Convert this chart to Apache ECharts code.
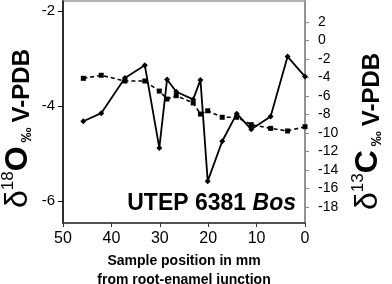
<!DOCTYPE html>
<html lang="en">
<head>
    <meta charset="utf-8">
    <title>UTEP 6381 Bos</title>
    <style>
        html, body { margin: 0; padding: 0; background: #fff; }
        #chart { width: 392px; height: 284px; }
    </style>
</head>
<body>
    <div id="chart"></div>
    <script src="https://cdn.jsdelivr.net/npm/echarts@6/dist/echarts.min.js"></script>
    <script type="text/javascript">
        // sample position, mm from root-enamel junction
        var positionMm = [45.8, 42.1, 37.2, 33.1, 30.1, 28.5, 26.6, 23.1, 21.6, 20.1, 17.1, 14.1, 11.1, 7.1, 3.6, 0];
        // d18O (left axis)
        var d18O = [-4.32, -4.15, -3.41, -3.14, -4.88, -3.44, -3.70, -3.86, -3.45, -5.58, -4.74, -4.16, -4.49, -4.22, -2.96, -3.38];
        // d13C (right axis)
        var d13C = [-4.09, -3.76, -4.38, -4.38, -5.47, -6.33, -5.97, -6.75, -7.95, -7.60, -8.30, -8.30, -9.10, -9.50, -9.78, -9.32];
        var leftTicks = [-6, -4, -2];
        var rightTicks = [-18, -16, -14, -12, -10, -8, -6, -4, -2, 0, 2];

        var font = "Liberation Sans, Arial, sans-serif";

        function pairs(ys) {
            return positionMm.map(function (x, i) { return [x, ys[i]]; });
        }

        function nameRich() {
            return {
                d: { fontFamily: font, fontSize: 32, color: "#000", verticalAlign: "bottom", lineHeight: 34 },
                s: { fontFamily: font, fontSize: 17, color: "#000", verticalAlign: "top", lineHeight: 34, padding: [0, 0, 14, 0] },
                o: { fontFamily: font, fontSize: 32, fontWeight: "bold", color: "#000", verticalAlign: "bottom", lineHeight: 34 },
                p: { fontFamily: font, fontSize: 15, fontWeight: "bold", color: "#000", verticalAlign: "bottom", lineHeight: 34, padding: [0, 5, 0, 4] },
                v: { fontFamily: font, fontSize: 24, fontWeight: "bold", color: "#000", verticalAlign: "bottom", lineHeight: 34 }
            };
        }

        var chart = echarts.init(document.getElementById("chart"), null, { renderer: "canvas" });
        var option = {
            backgroundColor: "#fff",
            animation: false,
            grid: { left: 63, right: 87, top: 1, bottom: 61, show: true, borderColor: "#9a9a9a", borderWidth: 1.5, outerBoundsMode: "none", containLabel: false },
            xAxis: {
                type: "value", min: 0, max: 50, interval: 10, inverse: true,
                axisLine: { onZero: false, lineStyle: { color: "#333", width: 1.5 } },
                axisTick: { show: true, length: 4, lineStyle: { color: "#333" } },
                axisLabel: { fontFamily: font, fontSize: 16, color: "#000", margin: 8 },
                splitLine: { show: false },
                name: "Sample position in mm\nfrom root-enamel junction",
                nameLocation: "middle",
                nameGap: 29,
                nameMoveOverlap: false,
                nameTextStyle: { fontFamily: font, fontSize: 14, fontWeight: "bold", color: "#000", lineHeight: 19 }
            },
            yAxis: [
                {
                    type: "value", min: -6.46, max: -1.79, position: "left",
                    axisLine: { show: true, onZero: false, lineStyle: { color: "#000", width: 1.5 } },
                    axisTick: { show: true, length: 5, customValues: leftTicks, lineStyle: { color: "#000" } },
                    axisLabel: { fontFamily: font, fontSize: 15, color: "#000", margin: 8, customValues: leftTicks },
                    splitLine: { show: false }
                },
                {
                    type: "value", min: -19.73, max: 4.27, position: "right",
                    axisLine: { show: true, onZero: false, lineStyle: { color: "#8a8a8a", width: 1.5 } },
                    axisTick: { show: true, length: 4, customValues: rightTicks, lineStyle: { color: "#8a8a8a" } },
                    axisLabel: { fontFamily: font, fontSize: 14, color: "#000", margin: 13, align: "left", customValues: rightTicks },
                    splitLine: { show: false }
                }
            ],
            series: [
                {
                    name: "d13C", type: "line", yAxisIndex: 1,
                    data: pairs(d13C),
                    symbol: "rect", symbolSize: 5,
                    lineStyle: { color: "#000", width: 1.6, type: [4, 3] },
                    itemStyle: { color: "#000" },
                    z: 2
                },
                {
                    name: "d18O", type: "line", yAxisIndex: 0,
                    data: pairs(d18O),
                    symbol: "diamond", symbolSize: 6,
                    lineStyle: { color: "#000", width: 1.8 },
                    itemStyle: { color: "#000" },
                    z: 3
                }
            ],
            graphic: [
                {
                    type: "text", x: 296, y: 215,
                    style: {
                        text: "{a|UTEP 6381 }{b|Bos}",
                        align: "right", verticalAlign: "bottom",
                        rich: {
                            a: { fontFamily: font, fontSize: 23, fontWeight: "bold", color: "#000" },
                            b: { fontFamily: font, fontSize: 23, fontWeight: "bold", fontStyle: "italic", color: "#000" }
                        }
                    }
                },
                {
                    type: "text", x: 34, y: 208, rotation: Math.PI / 2,
                    style: {
                        text: "{d|δ}{s|18}{o|O}{p|‰}{v|V-PDB}",
                        align: "left", verticalAlign: "bottom",
                        rich: nameRich()
                    }
                },
                {
                    type: "text", x: 384, y: 210, rotation: Math.PI / 2,
                    style: {
                        text: "{d|δ}{s|13}{o|C}{p|‰}{v|V-PDB}",
                        align: "left", verticalAlign: "bottom",
                        rich: nameRich()
                    }
                }
            ]
        };
        chart.setOption(option);
    </script>
</body>
</html>
